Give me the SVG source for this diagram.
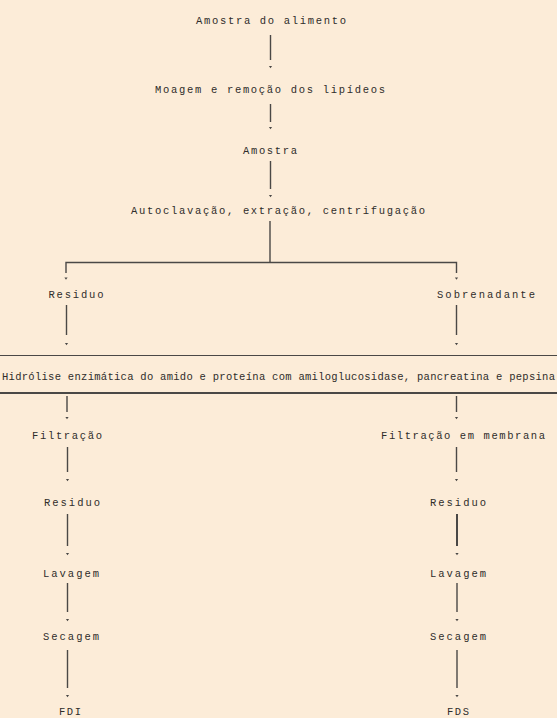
<svg xmlns="http://www.w3.org/2000/svg" width="557" height="718" viewBox="0 0 557 718">
<style>
.t{font-family:"Liberation Mono","DejaVu Sans Mono",monospace;font-size:10.5px;fill:#2f2d2b;text-anchor:middle}
.h{font-family:"Liberation Mono","DejaVu Sans Mono",monospace;font-size:10.5px;fill:#2f2d2b;text-anchor:middle}
.c line,.c polyline{stroke:#4a4846;stroke-width:1.4;fill:none}
.sep{stroke:#4a4846;fill:none}
</style>
<defs>
<path id="tk" d="M-1.6,-1 L1.6,-1 L0,1.2 Z" fill="#4a4846"/>
</defs>
<rect width="557" height="718" fill="#fcecd8"/>
<g id="n1"><text class="t" x="271" y="23.5" textLength="150" lengthAdjust="spacing">Amostra do alimento</text></g>
<g id="n2"><text class="t" x="270" y="92.5" textLength="230" lengthAdjust="spacing">Moagem e remoção dos lipídeos</text></g>
<g id="n3"><text class="t" x="270" y="153.5" textLength="54" lengthAdjust="spacing">Amostra</text></g>
<g id="n4"><text class="t" x="278" y="213.5" textLength="294" lengthAdjust="spacing">Autoclavação, extração, centrifugação</text></g>
<g id="n5"><text class="t" x="76" y="297.5" textLength="55" lengthAdjust="spacing">Residuo</text></g>
<g id="n6"><text class="t" x="486" y="297.5" textLength="98" lengthAdjust="spacing">Sobrenadante</text></g>
<g id="n7"><text class="h" x="278.5" y="379.5" textLength="553" lengthAdjust="spacing">Hidrólise enzimática do amido e proteína com amiloglucosidase, pancreatina e pepsina</text></g>
<g id="n8"><text class="t" x="67" y="438.5" textLength="70" lengthAdjust="spacing">Filtração</text></g>
<g id="n9"><text class="t" x="463" y="438.5" textLength="164" lengthAdjust="spacing">Filtração em membrana</text></g>
<g id="n10"><text class="t" x="72" y="505.5" textLength="56" lengthAdjust="spacing">Residuo</text></g>
<g id="n11"><text class="t" x="458" y="505.5" textLength="56" lengthAdjust="spacing">Residuo</text></g>
<g id="n12"><text class="t" x="71" y="576.5" textLength="56" lengthAdjust="spacing">Lavagem</text></g>
<g id="n13"><text class="t" x="458" y="576.5" textLength="56" lengthAdjust="spacing">Lavagem</text></g>
<g id="n14"><text class="t" x="71" y="639.5" textLength="56" lengthAdjust="spacing">Secagem</text></g>
<g id="n15"><text class="t" x="458" y="639.5" textLength="56" lengthAdjust="spacing">Secagem</text></g>
<g id="n16"><text class="t" x="70" y="714.5" textLength="22" lengthAdjust="spacing">FDI</text></g>
<g id="n17"><text class="t" x="458" y="714.5" textLength="22" lengthAdjust="spacing">FDS</text></g>
<g id="connectors" class="c">
<line x1="270.5" y1="35" x2="270.5" y2="60"/><use href="#tk" x="270.5" y="67"/>
<line x1="270.5" y1="104" x2="270.5" y2="122"/><use href="#tk" x="270.5" y="128"/>
<line x1="270.5" y1="161" x2="270.5" y2="189"/><use href="#tk" x="270.5" y="196"/>
<line x1="270" y1="221" x2="270" y2="262"/>
<polyline points="66,273 66,262.5 456.5,262.5 456.5,273"/>
<use href="#tk" x="66" y="278.5"/><use href="#tk" x="456.5" y="278.5"/>
<line x1="66.5" y1="305" x2="66.5" y2="335"/><use href="#tk" x="66.5" y="344"/>
<line x1="456.5" y1="305" x2="456.5" y2="335"/><use href="#tk" x="456.5" y="344"/>
<line class="sep" x1="0" y1="355.5" x2="557" y2="355.5" style="stroke-width:1.2"/>
<line class="sep" x1="0" y1="393" x2="557" y2="393" style="stroke-width:2"/>
<line x1="67" y1="396" x2="67" y2="412"/><use href="#tk" x="67" y="418"/>
<line x1="456.5" y1="396" x2="456.5" y2="412"/><use href="#tk" x="456.5" y="418"/>
<line x1="67.5" y1="447" x2="67.5" y2="472"/><use href="#tk" x="67.5" y="480"/>
<line x1="456.5" y1="447" x2="456.5" y2="472"/><use href="#tk" x="456.5" y="480"/>
<line x1="67.5" y1="514" x2="67.5" y2="546"/><use href="#tk" x="67.5" y="554"/>
<line x1="457" y1="514" x2="457" y2="546" style="stroke-width:2"/><use href="#tk" x="457" y="554"/>
<line x1="67.5" y1="583" x2="67.5" y2="612"/><use href="#tk" x="67.5" y="620"/>
<line x1="457" y1="583" x2="457" y2="612"/><use href="#tk" x="457" y="620"/>
<line x1="67.5" y1="650" x2="67.5" y2="688"/><use href="#tk" x="67.5" y="696"/>
<line x1="457" y1="650" x2="457" y2="688"/><use href="#tk" x="457" y="696"/>
</g>
</svg>
